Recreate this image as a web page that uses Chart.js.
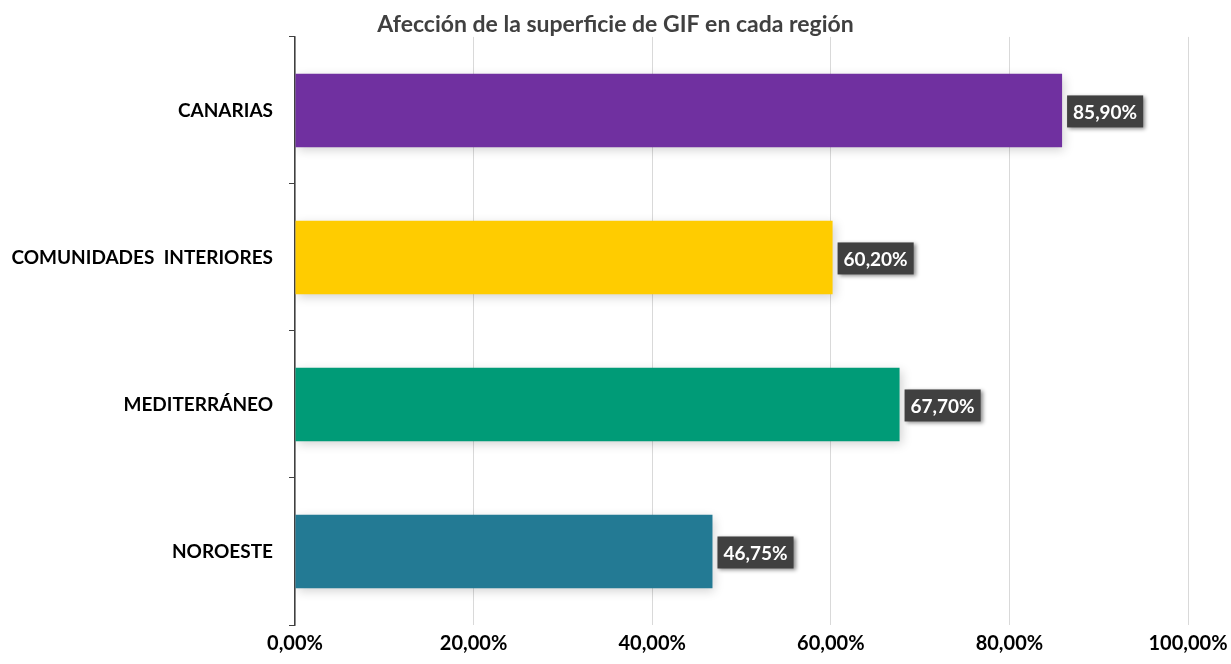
<!DOCTYPE html>
<html>
<head>
<meta charset="utf-8">
<script src="https://cdn.jsdelivr.net/npm/chart.js@4"></script>
<style>
  html, body { margin: 0; padding: 0; background: #fff; }
  #wrap { width: 1231px; height: 664px; position: relative; }
</style>
</head>
<body>
<div id="wrap"><canvas id="chart"></canvas></div>
<script>
/* Afección de la superficie de GIF en cada región */

const regions = ["CANARIAS", "COMUNIDADES  INTERIORES", "MEDITERRÁNEO", "NOROESTE"];
const values = [85.9, 60.2, 67.7, 46.75];
const barColors = ["#7030A0", "#FFCC00", "#009B77", "#237A94"];
const xTicks = [0, 20, 40, 60, 80, 100];

const FONT = "Lato, 'Open Sans', sans-serif";

function pct(v) {
  return v.toFixed(2).replace(".", ",") + "%";
}

// soft shadow under the bars
const barShadow = {
  id: "barShadow",
  beforeDatasetsDraw(chart) {
    const ctx = chart.ctx;
    ctx.save();
    ctx.shadowColor = "rgba(0,0,0,0.18)";
    ctx.shadowBlur = 10;
    ctx.shadowOffsetX = 2;
    ctx.shadowOffsetY = 3;
  },
  afterDatasetsDraw(chart) {
    chart.ctx.restore();
  },
};

// dark boxed value labels at the bar ends
const valueBoxes = {
  id: "valueBoxes",
  afterDatasetsDraw(chart) {
    const ctx = chart.ctx;
    const meta = chart.getDatasetMeta(0);
    ctx.save();
    ctx.font = "bold 19px " + FONT;
    ctx.textBaseline = "middle";
    ctx.textAlign = "left";
    meta.data.forEach((bar, i) => {
      const text = pct(values[i]);
      const w = ctx.measureText(text).width + 12;
      const h = 32;
      const x = bar.x + 5;
      const y = bar.y - h / 2 + 1;
      ctx.save();
      ctx.shadowColor = "rgba(0,0,0,0.45)";
      ctx.shadowBlur = 4;
      ctx.shadowOffsetX = 2;
      ctx.shadowOffsetY = 2;
      ctx.fillStyle = "#404040";
      ctx.fillRect(x, y, w, h);
      ctx.restore();
      ctx.fillStyle = "#ffffff";
      ctx.fillText(text, x + 6, y + h / 2 + 1);
    });
    ctx.restore();
  },
};

document.addEventListener("DOMContentLoaded", () => {
  const ctx = document.getElementById("chart").getContext("2d");

  new Chart(ctx, {
    type: "bar",
    data: {
      labels: regions,
      datasets: [
        {
          data: values,
          backgroundColor: barColors,
          borderWidth: 0,
          categoryPercentage: 1,
          barPercentage: 0.5,
        },
      ],
    },
    plugins: [barShadow, valueBoxes],
    options: {
      indexAxis: "y",
      responsive: true,
      maintainAspectRatio: false,
      animation: false,
      layout: { padding: 0 },
      plugins: {
        legend: { display: false },
        tooltip: { enabled: false },
        title: {
          display: true,
          text: "Afección de la superficie de GIF en cada región",
          color: "#404040",
          font: { family: FONT, size: 23, weight: "bold", lineHeight: 1.04 },
          padding: { top: 13, bottom: 0 },
        },
      },
      scales: {
        x: {
          min: 0,
          max: 100,
          afterBuildTicks: (scale) => {
            scale.ticks = xTicks.map((v) => ({ value: v }));
          },
          afterFit: (scale) => {
            scale.height = 39;
            scale.paddingLeft = 0;
            scale.paddingRight = 43;
          },
          grid: {
            color: "#d9d9d9",
            lineWidth: 1,
            drawTicks: false,
          },
          border: { display: false },
          ticks: {
            color: "#000000",
            padding: 7,
            font: { family: FONT, size: 20, weight: "bold" },
            callback: (v) => pct(v),
          },
        },
        y: {
          afterFit: (scale) => {
            scale.width = 295;
          },
          grid: {
            offset: true,
            drawOnChartArea: false,
            drawTicks: true,
            tickLength: 6,
            color: "#404040",
          },
          border: { display: true, color: "#404040", width: 1.5 },
          ticks: {
            color: "#000000",
            padding: 16,
            font: { family: FONT, size: 19, weight: "bold" },
          },
        },
      },
    },
  });
});
</script>
</body>
</html>
